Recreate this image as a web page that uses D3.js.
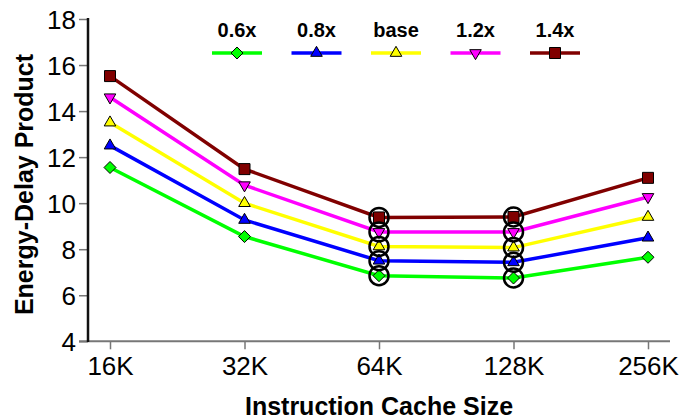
<!DOCTYPE html>
<html><head><meta charset="utf-8">
<script src="https://cdn.jsdelivr.net/npm/d3@7"></script>
<style>body{margin:0;background:#fff}svg{display:block}text{font-family:"Liberation Sans",Arial,sans-serif}</style>
</head><body><svg id="c" width="681" height="419"></svg>
<script>
const categories = ["16K","32K","64K","128K","256K"];
const seriesNames = ["0.6x","0.8x","base","1.2x","1.4x"];
const s06  = [11.55, 8.55, 6.85, 6.75, 7.65];
const s08  = [12.5, 9.27, 7.5, 7.43, 8.5];
const sBase= [13.5, 10.0, 8.12, 8.07, 9.4];
const s12  = [14.6, 10.78, 8.75, 8.75, 10.27];
const s14  = [15.52, 11.48, 9.38, 9.4, 11.1];
const yTicks = [4,6,8,10,12,14,16,18];
const highlighted = ["64K","128K"];
const colors = ["#00ff00","#0000ff","#ffff00","#ff00ff","#800000"];
const symbols = ["diamond","up","up","down","square"];
const allSeries = [s06,s08,sBase,s12,s14];

const svg = d3.select("#c");
const x = d3.scalePoint().domain(categories).range([110,648]);
const y = d3.scaleLinear().domain([4,18]).range([341.3,19]);

// axes
const yAx = svg.append("g").attr("transform","translate(88,0)")
  .call(d3.axisLeft(y).tickValues(yTicks).tickSize(9).tickPadding(3).tickFormat(d3.format("d")));
yAx.select(".domain").remove();
yAx.selectAll(".tick line").attr("stroke","#777").attr("stroke-width",1.5);
yAx.selectAll(".tick text").attr("font-size",26).attr("fill","#000").attr("dy","0.36em");
const xAx = svg.append("g").attr("transform","translate(0,341.3)")
  .call(d3.axisBottom(x).tickSize(8).tickPadding(7));
xAx.select(".domain").remove();
xAx.selectAll(".tick line").attr("stroke","#777").attr("stroke-width",1.5);
xAx.selectAll(".tick text").attr("font-size",26).attr("fill","#000");
svg.append("line").attr("x1",79).attr("x2",670).attr("y1",341.3).attr("y2",341.3).attr("stroke","#777").attr("stroke-width",2);
svg.append("line").attr("x1",88).attr("x2",88).attr("y1",18).attr("y2",342).attr("stroke","#111").attr("stroke-width",2.5);

function sym(i){
  const t = symbols[i];
  if (t==="diamond") return "M0,-6L6,0L0,6L-6,0Z";
  if (t==="square") return d3.symbol().type(d3.symbolSquare).size(121)();
  return d3.symbol().type(d3.symbolTriangle).size(58)();
}
function rot(i){ return symbols[i]==="down" ? " rotate(180)" : ""; }
const line = d3.line().x((d,i)=>x(categories[i])).y(d=>y(d));

allSeries.forEach((vals,i)=>{
  svg.append("path").attr("d",line(vals)).attr("fill","none").attr("stroke",colors[i]).attr("stroke-width",3.5);
});
allSeries.forEach((vals,i)=>{
  svg.selectAll(null).data(vals).enter().append("path")
    .attr("d",sym(i))
    .attr("transform",(d,j)=>`translate(${x(categories[j])},${y(d)})${rot(i)}`)
    .attr("fill",colors[i]).attr("stroke","#000").attr("stroke-width",1);
});
// highlight circles
allSeries.forEach((vals,i)=>{
  svg.selectAll(null).data(vals.map((v,j)=>[categories[j],v]).filter(d=>highlighted.includes(d[0])))
    .enter().append("circle").attr("cx",d=>x(d[0])).attr("cy",d=>y(d[1])).attr("r",9.5)
    .attr("fill","none").attr("stroke","#000").attr("stroke-width",2.5);
});

// legend
const lx = d3.scalePoint().domain(seriesNames).range([237,555]);
seriesNames.forEach((n,i)=>{
  const cx = lx(n);
  svg.append("line").attr("x1",cx-25).attr("x2",cx+25).attr("y1",53).attr("y2",53).attr("stroke",colors[i]).attr("stroke-width",3.5);
  svg.append("path").attr("d",sym(i)).attr("transform",`translate(${cx},${53})${rot(i)}`)
    .attr("fill",colors[i]).attr("stroke","#000").attr("stroke-width",1);
  svg.append("text").attr("x",cx).attr("y",36.5).attr("text-anchor","middle").attr("font-size",20).attr("font-weight","bold").text(n);
});

// titles
svg.append("text").attr("x",379).attr("y",415).attr("text-anchor","middle").attr("font-size",25).attr("font-weight","bold").text("Instruction Cache Size");
svg.append("text").attr("transform","translate(33,184.5) rotate(-90)").attr("text-anchor","middle").attr("font-size",25).attr("font-weight","bold").text("Energy-Delay Product");
</script></body></html>
